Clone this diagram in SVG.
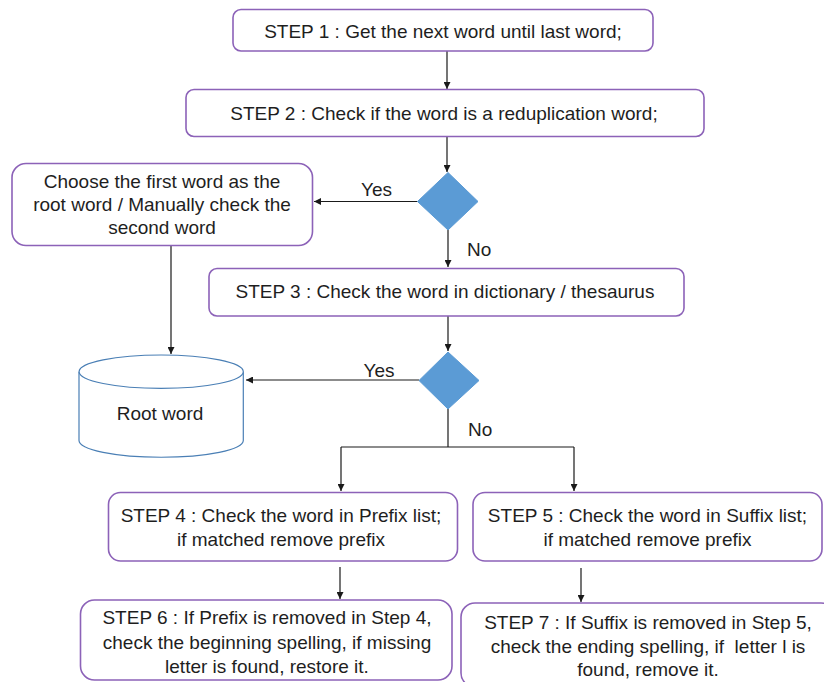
<svg xmlns="http://www.w3.org/2000/svg" width="824" height="682" viewBox="0 0 824 682">
  <style>
    .box { fill: #ffffff; stroke: #8c62b8; stroke-width: 1.6; }
    .dec { fill: #5b9bd5; stroke: #5b9bd5; stroke-width: 1; }
    .db { fill: #ffffff; stroke: #4a7fb5; stroke-width: 1.2; }
    .lbl { font-family: "Liberation Sans", Arial, sans-serif; font-size: 19px; fill: #1e1e1e; text-anchor: middle; }
    .edge { fill: none; stroke: #1a1a1a; stroke-width: 1.2; }
  </style>
  <defs>
    <marker id="arr" viewBox="0 0 10 10" refX="10" refY="5" markerWidth="7" markerHeight="7" markerUnits="userSpaceOnUse" orient="auto">
      <path d="M0,0 L10,5 L0,10 z" fill="#1a1a1a"/>
    </marker>
  </defs>
  <rect width="824" height="682" fill="#ffffff"/>

  <!-- connectors -->
  <g id="connectors">
    <line class="edge" x1="447" y1="51" x2="447" y2="89" marker-end="url(#arr)"/>
    <line class="edge" x1="447" y1="137" x2="447" y2="172" marker-end="url(#arr)"/>
    <line class="edge" x1="417.5" y1="201.5" x2="314" y2="201.5" marker-end="url(#arr)"/>
    <line class="edge" x1="448" y1="230" x2="448" y2="267" marker-end="url(#arr)"/>
    <line class="edge" x1="171" y1="246" x2="171" y2="354" marker-end="url(#arr)"/>
    <line class="edge" x1="448" y1="316" x2="448" y2="351" marker-end="url(#arr)"/>
    <line class="edge" x1="419" y1="380" x2="246" y2="380" marker-end="url(#arr)"/>
    <polyline class="edge" points="448,409 448,447"/>
    <polyline class="edge" points="341,447 574,447"/>
    <line class="edge" x1="341" y1="447" x2="341" y2="491" marker-end="url(#arr)"/>
    <line class="edge" x1="574" y1="447" x2="574" y2="491" marker-end="url(#arr)"/>
    <line class="edge" x1="340" y1="567" x2="340" y2="599" marker-end="url(#arr)"/>
    <line class="edge" x1="581" y1="568" x2="581" y2="602" marker-end="url(#arr)"/>
    <text class="lbl" x="376.5" y="195.5">Yes</text>
    <text class="lbl" x="467" y="255.5" style="text-anchor:start">No</text>
    <text class="lbl" x="379" y="376.5">Yes</text>
    <text class="lbl" x="468" y="435.5" style="text-anchor:start">No</text>
  </g>

  <g id="step1">
    <rect class="box" x="233" y="9.5" width="420" height="41.5" rx="8"/>
    <text class="lbl" x="443" y="38">STEP 1 : Get the next word until last word;</text>
  </g>

  <g id="step2">
    <rect class="box" x="186" y="89.5" width="518" height="47" rx="8"/>
    <text class="lbl" x="444" y="119.5">STEP 2 : Check if the word is a reduplication word;</text>
  </g>

  <g id="decision1">
    <polygon class="dec" points="448,172.5 478,201.5 448,230 417.5,201.5"/>
  </g>

  <g id="choose-first">
    <rect class="box" x="12" y="163.5" width="300.5" height="82" rx="14"/>
    <text class="lbl" x="162" y="187.5">Choose the first word as the</text>
    <text class="lbl" x="162" y="210.5">root word / Manually check the</text>
    <text class="lbl" x="162" y="233.5">second word</text>
  </g>

  <g id="step3">
    <rect class="box" x="209" y="268.5" width="475" height="47.5" rx="8"/>
    <text class="lbl" x="445" y="298">STEP 3 : Check the word in dictionary / thesaurus</text>
  </g>

  <g id="decision2">
    <polygon class="dec" points="448,352 479,380.5 448,409 419,380.5"/>
  </g>

  <g id="root-word">
    <path class="db" d="M79,371.7 L79,440.5 A82,16.7 0 0 0 243.3,440.5 L243.3,371.7"/>
    <ellipse class="db" cx="161.2" cy="371.7" rx="82.1" ry="16.7"/>
    <text class="lbl" x="160" y="419.5">Root word</text>
  </g>

  <g id="step4">
    <rect class="box" x="108.5" y="492.5" width="349" height="68.5" rx="12"/>
    <text class="lbl" x="281" y="522">STEP 4 : Check the word in Prefix list;</text>
    <text class="lbl" x="281" y="546">if matched remove prefix</text>
  </g>

  <g id="step5">
    <rect class="box" x="473" y="492.5" width="349" height="68.5" rx="12"/>
    <text class="lbl" x="647.5" y="522">STEP 5 : Check the word in Suffix list;</text>
    <text class="lbl" x="647.5" y="546">if matched remove prefix</text>
  </g>

  <g id="step6">
    <rect class="box" x="80.5" y="600" width="371.5" height="80" rx="14"/>
    <text class="lbl" x="267" y="624">STEP 6 : If Prefix is removed in Step 4,</text>
    <text class="lbl" x="267" y="648.5">check the beginning spelling, if missing</text>
    <text class="lbl" x="267" y="673">letter is found, restore it.</text>
  </g>

  <g id="step7">
    <rect class="box" x="461" y="603" width="374" height="84" rx="14"/>
    <text class="lbl" x="648" y="629">STEP 7 : If Suffix is removed in Step 5,</text>
    <text class="lbl" x="648" y="653">check the ending spelling, if&#160; letter l is</text>
    <text class="lbl" x="648" y="676">found, remove it.</text>
  </g>
</svg>
